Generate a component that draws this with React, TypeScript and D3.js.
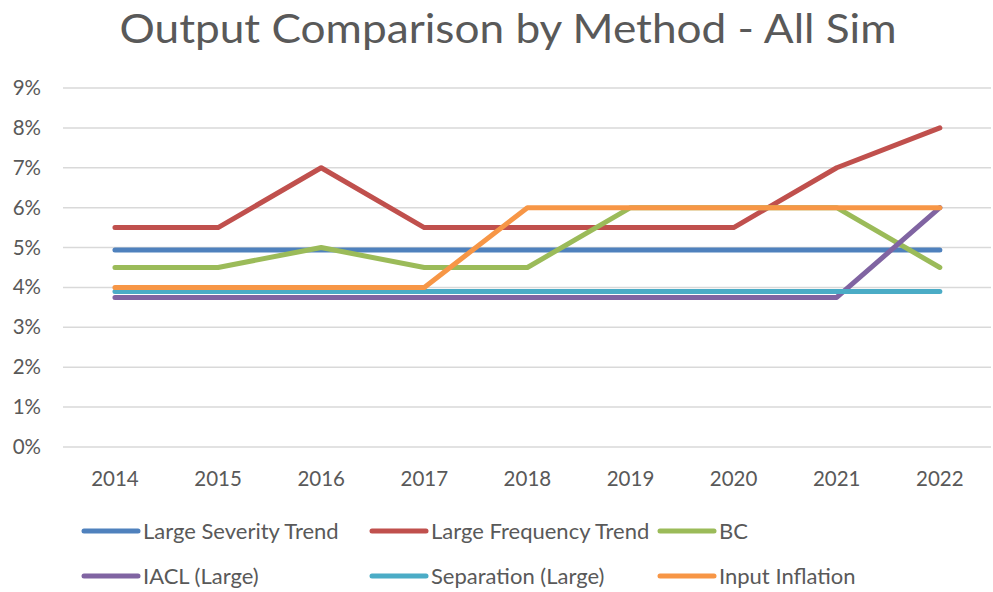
import React from "react";
import * as d3 from "d3";

const years = ["2014", "2015", "2016", "2017", "2018", "2019", "2020", "2021", "2022"];
const seriesNames = ["Large Severity Trend", "Large Frequency Trend", "BC", "IACL (Large)", "Separation (Large)", "Input Inflation"];
const severity = [4.94, 4.94, 4.94, 4.94, 4.94, 4.94, 4.94, 4.94, 4.94];
const frequency = [5.5, 5.5, 7, 5.5, 5.5, 5.5, 5.5, 7, 8];
const bc = [4.5, 4.5, 5, 4.5, 4.5, 6, 6, 6, 4.5];
const iacl = [3.75, 3.75, 3.75, 3.75, 3.75, 3.75, 3.75, 3.75, 6];
const separation = [3.9, 3.9, 3.9, 3.9, 3.9, 3.9, 3.9, 3.9, 3.9];
const inflation = [4, 4, 4, 4, 6, 6, 6, 6, 6];
const yTicks = [0, 1, 2, 3, 4, 5, 6, 7, 8, 9];
const colors = ["#4F81BD", "#C0504D", "#9BBB59", "#8064A2", "#4BACC6", "#F79646"];

const allSeries = [severity, frequency, bc, iacl, separation, inflation];

export default function App() {
  const W = 993, H = 592;
  const font = "Lato, 'Open Sans', sans-serif";
  const x = d3.scaleBand().domain(years).range([63.4, 991.4]);
  const y = d3.scaleLinear().domain([0, 9]).range([447, 88]);
  const cx = (d: string) => (x(d) as number) + x.bandwidth() / 2;
  const line = d3.line<number>().x((_, i) => cx(years[i])).y((v) => y(v));

  const legendPos = [
    { x: 84, y: 531 }, { x: 372, y: 531 }, { x: 660, y: 531 },
    { x: 84, y: 576 }, { x: 372, y: 576 }, { x: 660, y: 576 },
  ];
  const gray = "#595959";

  return (
    <svg width={W} height={H} style={{ position: "absolute", left: 0, top: 0, background: "#fff" }}>
      <rect width={W} height={H} fill="#fff" />
      <text x={508} y={43} textAnchor="middle" fontFamily={font} fontSize={41} fill={gray} textLength={777} lengthAdjust="spacingAndGlyphs">
        Output Comparison by Method - All Sim
      </text>
      {yTicks.map((t) => (
        <g key={t}>
          <line x1={63} x2={991} y1={y(t)} y2={y(t)} stroke="#D9D9D9" strokeWidth={1.5} />
          <text x={41} y={y(t) + 7} textAnchor="end" fontFamily={font} fontSize={20.5} fill={gray}>{t}%</text>
        </g>
      ))}
      {years.map((yr) => (
        <text key={yr} x={cx(yr)} y={486} textAnchor="middle" fontFamily={font} fontSize={20.5} fill={gray}>{yr}</text>
      ))}
      {allSeries.map((s, i) => (
        <path key={i} d={line(s) as string} fill="none" stroke={colors[i]} strokeWidth={5} strokeLinecap="round" strokeLinejoin="round" />
      ))}
      {seriesNames.map((n, i) => (
        <g key={n}>
          <line x1={legendPos[i].x} x2={legendPos[i].x + 54} y1={legendPos[i].y} y2={legendPos[i].y} stroke={colors[i]} strokeWidth={5} strokeLinecap="round" />
          <text x={legendPos[i].x + 59} y={legendPos[i].y + 8} fontFamily={font} fontSize={22} fill={gray}>{n}</text>
        </g>
      ))}
    </svg>
  );
}
